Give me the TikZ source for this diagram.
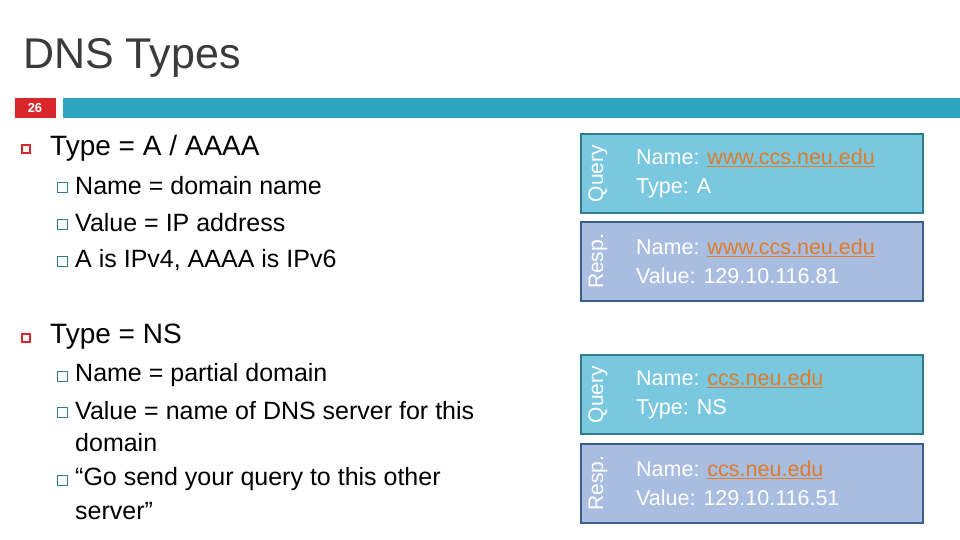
\documentclass[tikz,border=0pt]{standalone}
\usepackage{fontspec}
\setmainfont{Liberation Sans}
\usetikzlibrary{positioning}
\definecolor{titlegray}{HTML}{3A3A3A}
\definecolor{barteal}{HTML}{2EA3C0}
\definecolor{numred}{HTML}{D9262B}
\definecolor{qfill}{HTML}{7AC8E0}
\definecolor{qline}{HTML}{2F7A8C}
\definecolor{rfill}{HTML}{A8BDE0}
\definecolor{rline}{HTML}{3A5F8A}
\definecolor{linkorange}{HTML}{E07B2A}
\newcommand{\dnslink}[1]{\textcolor{linkorange}{\underline{#1}}}
\tikzset{
  mainitem/.style={anchor=west, font=\fontsize{28}{32}\selectfont, text=black, inner sep=0},
  subitem/.style={anchor=west, font=\fontsize{25}{30}\selectfont, text=black, inner sep=0},
  mainbox/.style={draw=numred, line width=1.4pt, minimum size=8pt, inner sep=0},
  subbox/.style={draw=qline, line width=0.8pt, minimum size=10pt, inner sep=0},
  rec/.style={minimum width=342pt, minimum height=79pt, line width=2pt, inner sep=0},
  reclabel/.style={rotate=90, text=white, font=\fontsize{21}{24}\selectfont, inner sep=0},
  rectext/.style={anchor=west, text=white, align=left, font=\fontsize{21.5}{29}\selectfont, inner sep=0}
}
\begin{document}
\begin{tikzpicture}[x=1pt,y=-1pt]
  \useasboundingbox[fill=white] (0,0) rectangle (960,540);
  \node[anchor=west, text=titlegray, font=\fontsize{43}{48}\selectfont, inner sep=0] (title) at (23,58) {DNS Types};
  \fill[numred] (15,98) rectangle (56,118);
  \node[text=white, font=\bfseries\fontsize{13}{15}\selectfont] (num) at (35,108) {26};
  \fill[barteal] (63,98) rectangle (960,118);

  % Type A
  \node[mainbox] (b1) at (26,149) {};
  \node[mainitem] (t1) at (50,148) {Type = A / AAAA};
  \node[subbox] (s11) at (62,187) {};
  \node[subitem] (t11) at (75,186) {Name = domain name};
  \node[subbox] (s12) at (62,224) {};
  \node[subitem] (t12) at (75,223) {Value = IP address};
  \node[subbox] (s13) at (62,261) {};
  \node[subitem] (t13) at (75,260) {A is IPv4, AAAA is IPv6};

  % Type NS
  \node[mainbox] (b2) at (26,338) {};
  \node[mainitem] (t2) at (50,337) {Type = NS};
  \node[subbox] (s21) at (62,376) {};
  \node[subitem] (t21) at (75,375) {Name = partial domain};
  \node[subbox] (s22) at (62,412) {};
  \node[subitem] (t22) at (75,411) {Value = name of DNS server for this};
  \node[subitem] (t22b) at (75,443) {domain};
  \node[subbox] (s23) at (62,480) {};
  \node[subitem] (t23) at (75,479) {“Go send your query to this other};
  \node[subitem] (t23b) at (75,511) {server”};

  % records
  \node[rec, draw=qline, fill=qfill] (q1) at (752,173.5) {};
  \node[reclabel] (q1l) at (598,173.5) {Query};
  \node[rectext] (q1t) at (636,173.5) {Name: \dnslink{www.ccs.neu.edu}\\Type: A};
  \node[rec, draw=rline, fill=rfill] (r1) at (752,261.5) {};
  \node[reclabel] (r1l) at (598,261.5) {Resp.};
  \node[rectext] (r1t) at (636,261.5) {Name: \dnslink{www.ccs.neu.edu}\\Value: 129.10.116.81};

  \node[rec, draw=qline, fill=qfill] (q2) at (752,394.5) {};
  \node[reclabel] (q2l) at (598,394.5) {Query};
  \node[rectext] (q2t) at (636,394.5) {Name: \dnslink{ccs.neu.edu}\\Type: NS};
  \node[rec, draw=rline, fill=rfill] (r2) at (752,483) {};
  \node[reclabel] (r2l) at (598,483) {Resp.};
  \node[rectext] (r2t) at (636,483) {Name: \dnslink{ccs.neu.edu}\\Value: 129.10.116.51};
\end{tikzpicture}
\end{document}
